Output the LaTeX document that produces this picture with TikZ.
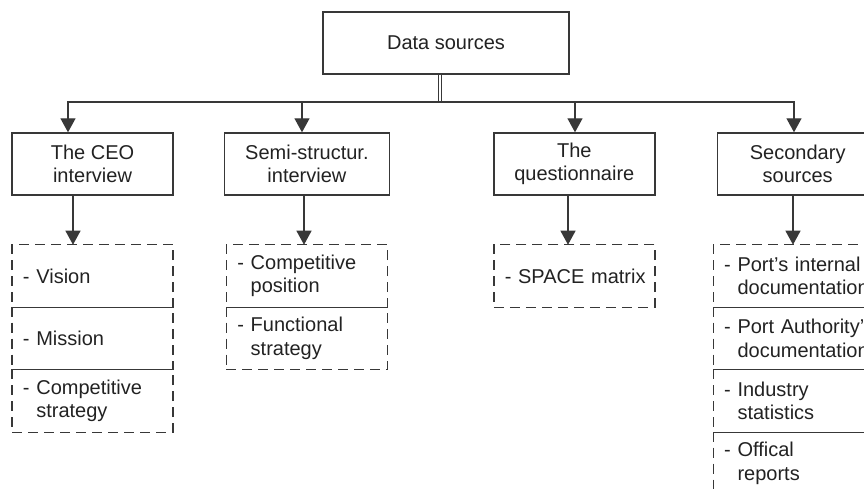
\documentclass[tikz,border=0pt]{standalone}
\usepackage{fontspec}
\setmainfont{Liberation Sans}
\usetikzlibrary{arrows.meta,positioning}
\definecolor{InkGray}{HTML}{383838}
\definecolor{TextGray}{HTML}{222222}

% one- and two-line list entries, second line hung under the first word
\newcommand{\oneln}[1]{\mbox{- #1}}
\newcommand{\twoln}[2]{\mbox{- #1}\\\mbox{\phantom{- }#2}}

\begin{document}
\begin{tikzpicture}[
    x=1pt, y=-1pt,
    font=\fontsize{20}{23.5}\selectfont,
    text=TextGray,
    src/.style={rectangle, draw=InkGray, line width=1.4pt, align=center, minimum width=246pt, minimum height=62pt},
    method/.style={rectangle, draw=InkGray, line width=1.4pt, align=center, minimum width=161pt, minimum height=62pt, inner sep=2pt},
    item/.style={rectangle, draw=InkGray, line width=1.4pt, dash pattern=on 10pt off 6pt, align=left, text width=139pt, inner xsep=11pt, inner ysep=2pt, minimum height=62.5pt, outer sep=0pt},
    arrow/.style={-{Triangle[length=14pt, width=15pt]}, line width=1.3pt, draw=InkGray},
    stem/.style={draw=InkGray, double=white, double distance=1.6pt, line width=0.9pt}
]
\clip (0,0) rectangle (864,488);

\node[src] (data) at (446,43) {Data sources};

\node[method] (ceo) at (92.5,164) {The CEO\\interview};
\node[method, right=50pt of ceo, minimum width=165pt] (semi) {Semi-structur.\\interview};
\node[method, right=103pt of semi] (quest) {The\\questionnaire};
\node[method, right=61pt of quest] (second) {Secondary\\sources};

% what each source delivers
\node[item, below=49pt of ceo] (vision) {\oneln{Vision}};
\node[item, below=0pt of vision] (mission) {\oneln{Mission}};
\node[item, below=0pt of mission] (cstrat) {\twoln{Competitive}{strategy}};

\node[item, below=49pt of semi] (cpos) {\twoln{Competitive}{position}};
\node[item, below=0pt of cpos] (fstrat) {\twoln{Functional}{strategy}};

\node[item, below=49pt of quest] (space) {\oneln{SPACE matrix}};

\node[item, below=49pt of second, xshift=-4pt] (portdoc) {\twoln{Port's internal}{documentation}};
\node[item, below=0pt of portdoc] (authdoc) {\twoln{Port Authority's}{documentation}};
\node[item, below=0pt of authdoc] (stats) {\twoln{Industry}{statistics}};
\node[item, below=0pt of stats] (reports) {\twoln{Offical}{reports}};

% branching lines
\coordinate (hub) at (440,102);
\coordinate (b1) at (68,102);
\coordinate (b2) at (302,102);
\coordinate (b3) at (575,102);
\coordinate (b4) at (794,102);
\coordinate (d1) at (73,0);
\coordinate (d2) at (304,0);
\coordinate (d3) at (568,0);
\coordinate (d4) at (793,0);

\draw[stem] (data.south -| hub) -- (hub);
\draw[arrow] (hub) -| (b1 |- ceo.north);
\draw[arrow] (hub) -| (b4 |- second.north);
\draw[arrow] (b2) -- (b2 |- semi.north);
\draw[arrow] (b3) -- (b3 |- quest.north);

\draw[arrow] (ceo.south -| d1) -- (vision.north -| d1);
\draw[arrow] (semi.south -| d2) -- (cpos.north -| d2);
\draw[arrow] (quest.south -| d3) -- (space.north -| d3);
\draw[arrow] (second.south -| d4) -- (portdoc.north -| d4);
\end{tikzpicture}
\end{document}
